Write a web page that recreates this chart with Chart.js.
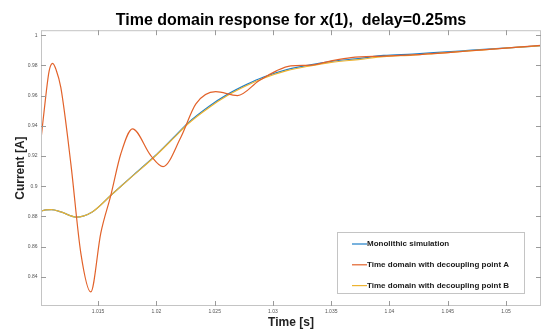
<!DOCTYPE html>
<html lang="en">
<head>
  <meta charset="UTF-8" />
  <title>Time domain response</title>
  <script src="https://cdn.jsdelivr.net/npm/chart.js"></script>
  <style>
    body { margin: 0; background: #fff; }
    #wrap { width: 550px; height: 336px; }
  </style>
</head>
<body>
  <div id="wrap"><canvas id="respChart"></canvas></div>

  <script>
    // smooth curves (monolithic + point B)
    const timeSmooth = [1.0101, 1.0105, 1.0110, 1.0118, 1.0131, 1.0145, 1.0161, 1.0180, 1.0198, 1.0215,
                        1.0227, 1.0245, 1.0261, 1.0278, 1.0292, 1.0312, 1.0332, 1.0350, 1.0375, 1.0395,
                        1.0420, 1.0438, 1.0460, 1.0481, 1.0505, 1.0530];
    const currentMono = [0.8834, 0.8843, 0.8845, 0.8830, 0.8796, 0.8830, 0.8940, 0.9072, 0.9195, 0.9325,
                         0.9418, 0.9528, 0.9608, 0.9676, 0.9723, 0.9772, 0.9804, 0.9827, 0.9847, 0.9866,
                         0.9875, 0.9884, 0.9895, 0.9906, 0.9918, 0.9930];
    const currentB = [0.8834, 0.8843, 0.8845, 0.8830, 0.8796, 0.8830, 0.8940, 0.9070, 0.9192, 0.9320,
                      0.9412, 0.9520, 0.9600, 0.9668, 0.9715, 0.9765, 0.9797, 0.9820, 0.9840, 0.9858,
                      0.9868, 0.9878, 0.9891, 0.9903, 0.9917, 0.9930];

    // oscillating curve (point A)
    const timeA = [1.0101, 1.0105, 1.0108, 1.0111, 1.0114, 1.0118, 1.01266, 1.01352, 1.01437, 1.01523,
                   1.01609, 1.01695, 1.01795, 1.01952, 1.02057, 1.0221, 1.02339, 1.02509, 1.02696, 1.0288,
                   1.0303, 1.03153, 1.0333, 1.0350, 1.0367, 1.0395, 1.0420, 1.0450, 1.0480, 1.0505, 1.0530];
    const currentA = [0.931, 0.959, 0.9764, 0.9813, 0.9770, 0.9654, 0.915, 0.8556, 0.830, 0.869,
                      0.894, 0.9215, 0.938, 0.9203, 0.913, 0.9324, 0.9545, 0.9626, 0.960, 0.9698,
                      0.9764, 0.9797, 0.9802, 0.9830, 0.9852, 0.9862, 0.9870, 0.9885, 0.9903, 0.9918, 0.9932];

    const seriesNames = ["Monolithic simulation", "Time domain with decoupling point A", "Time domain with decoupling point B"];
    const seriesColors = ["#1f7fc8", "#e2622a", "#edb330"];

    const xMin = 1.0101, xMax = 1.0530;
    const yMin = 0.8207, yMax = 1.0033;

    const pts = (xs, ys) => xs.map((x, i) => ({ x, y: ys[i] }));
    const fmt = v => String(+Number(v).toFixed(4));

    // box round the plot, inward tick marks on all four sides, legend inside
    const frame = {
      id: "frame",
      afterDatasetsDraw(chart) {
        const { ctx, chartArea: a, scales } = chart;
        ctx.save();
        ctx.strokeStyle = "#c4c4c4";
        ctx.lineWidth = 1;
        ctx.strokeRect(a.left + 0.5, a.top + 0.5, a.right - a.left - 1, a.bottom - a.top - 1);
        ctx.strokeStyle = "#9a9a9a";
        ctx.beginPath();
        scales.x.ticks.forEach(t => {
          const px = Math.round(scales.x.getPixelForValue(t.value)) + 0.5;
          ctx.moveTo(px, a.bottom); ctx.lineTo(px, a.bottom - 5);
          ctx.moveTo(px, a.top); ctx.lineTo(px, a.top + 5);
        });
        scales.y.ticks.forEach(t => {
          const py = Math.round(scales.y.getPixelForValue(t.value)) + 0.5;
          ctx.moveTo(a.left, py); ctx.lineTo(a.left + 5, py);
          ctx.moveTo(a.right, py); ctx.lineTo(a.right - 5, py);
        });
        ctx.stroke();

        // legend
        const w = 187, h = 61;
        const lx = a.right - 17 - w, ly = a.bottom - 13 - h;
        ctx.fillStyle = "#fff";
        ctx.fillRect(lx, ly, w, h);
        ctx.strokeStyle = "#c4c4c4";
        ctx.strokeRect(lx + 0.5, ly + 0.5, w, h);
        ctx.font = "bold 8px 'Liberation Sans', Arial, sans-serif";
        ctx.textBaseline = "middle";
        seriesNames.forEach((name, i) => {
          const ry = ly + 12 + i * 20.8;
          ctx.strokeStyle = seriesColors[i];
          ctx.lineWidth = 1.2;
          ctx.beginPath();
          ctx.moveTo(lx + 15, ry); ctx.lineTo(lx + 30, ry);
          ctx.stroke();
          ctx.fillStyle = "#1a1a1a";
          ctx.fillText(name, lx + 30, ry);
        });
        ctx.restore();
      }
    };

    new Chart(document.getElementById("respChart"), {
      type: "line",
      data: {
        datasets: [
          { label: seriesNames[0], data: pts(timeSmooth, currentMono), borderColor: seriesColors[0], order: 3 },
          { label: seriesNames[1], data: pts(timeA, currentA), borderColor: seriesColors[1], order: 1 },
          { label: seriesNames[2], data: pts(timeSmooth, currentB), borderColor: seriesColors[2], order: 2 }
        ]
      },
      options: {
        responsive: true,
        maintainAspectRatio: false,
        animation: false,
        layout: { padding: { left: 0, right: 9, top: 0, bottom: 0 } },
        elements: {
          point: { radius: 0 },
          line: { borderWidth: 1.2, cubicInterpolationMode: "monotone", fill: false }
        },
        plugins: {
          legend: { display: false },
          tooltip: { enabled: false },
          title: {
            display: true,
            fullSize: false,
            text: "Time domain response for x(1),  delay=0.25ms",
            color: "#000",
            font: { family: "'Liberation Sans', Arial, sans-serif", size: 16, weight: "bold" },
            padding: { top: 11, bottom: 0 }
          }
        },
        scales: {
          x: {
            type: "linear",
            min: xMin,
            max: xMax,
            grid: { display: false, drawTicks: false, tickLength: 0 },
            border: { display: false },
            ticks: {
              stepSize: 0.005,
              includeBounds: false,
              maxRotation: 0,
              autoSkip: false,
              padding: 3,
              color: "#555",
              font: { family: "'Liberation Sans', Arial, sans-serif", size: 5 },
              callback: v => fmt(v)
            },
            title: {
              display: true,
              text: "Time [s]",
              color: "#222",
              font: { family: "'Liberation Sans', Arial, sans-serif", size: 12, weight: "bold" },
              padding: { top: 6, bottom: 6 }
            },
            afterFit: s => { s.height = 30; }
          },
          y: {
            min: yMin,
            max: yMax,
            grid: { display: false, drawTicks: false, tickLength: 0 },
            border: { display: false },
            ticks: {
              stepSize: 0.02,
              includeBounds: false,
              autoSkip: false,
              padding: 3.5,
              color: "#555",
              font: { family: "'Liberation Sans', Arial, sans-serif", size: 5 },
              callback: v => fmt(v)
            },
            title: {
              display: true,
              text: "Current [A]",
              color: "#222",
              font: { family: "'Liberation Sans', Arial, sans-serif", size: 12, weight: "bold" },
              padding: { top: 13, bottom: 13 }
            },
            afterFit: s => { s.width = 41; }
          }
        }
      },
      plugins: [frame]
    });
  </script>
</body>
</html>
